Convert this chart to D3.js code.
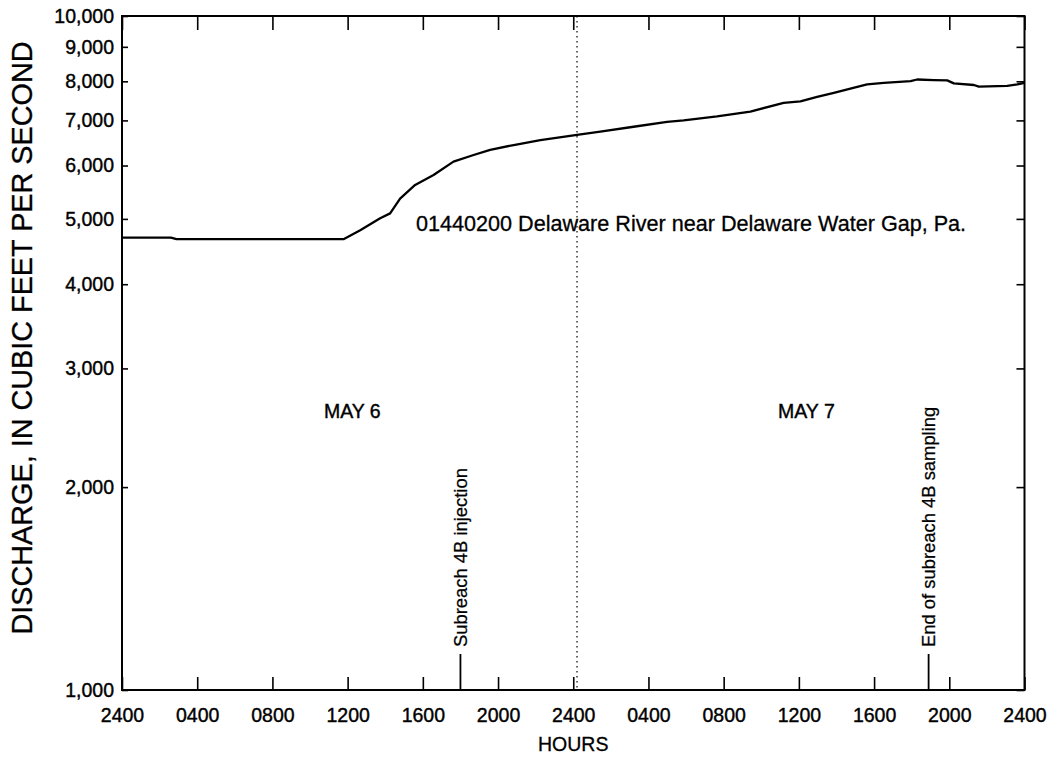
<!DOCTYPE html>
<html>
<head>
<meta charset="utf-8">
<script src="https://cdn.jsdelivr.net/npm/d3@7"></script>
<style>
  html, body { margin: 0; padding: 0; background: #fff; }
  svg { display: block; }
  text { font-family: "Liberation Sans", Arial, Helvetica, sans-serif; fill: #000; }
</style>
</head>
<body>
<svg id="chart" width="1057" height="760"></svg>
<script>
// ---- Data ----
// hours since 2400 on May 5 (0 = 2400 May 5, 24 = 2400 May 6, 48 = 2400 May 7)
const hours = [0, 2.6, 2.9, 11.78, 12.67, 13.73, 14.26, 14.79, 15.59, 16.57, 17.63, 18.70, 19.58,
  20.83, 22.25, 24.20, 25.44, 27.21, 28.99, 29.87, 31.65, 33.42, 35.19, 36.08, 36.97, 37.86,
  38.74, 39.63, 40.52, 41.94, 42.29, 43.18, 43.89, 44.24, 45.31, 45.57, 47.08, 47.62, 48];
const discharge = [4690, 4690, 4665, 4665, 4810, 5010, 5095, 5360, 5615, 5810, 6080, 6220, 6330,
  6435, 6545, 6660, 6735, 6850, 6965, 7000, 7095, 7215, 7430, 7470, 7585, 7690,
  7800, 7915, 7960, 8005, 8050, 8035, 8025, 7945, 7900, 7855, 7875, 7915, 7960];

const xTickValues = [0, 4, 8, 12, 16, 20, 24, 28, 32, 36, 40, 44, 48];
const xTickLabels = ["2400", "0400", "0800", "1200", "1600", "2000", "2400",
                     "0400", "0800", "1200", "1600", "2000", "2400"];
const yTickValues = [1000, 2000, 3000, 4000, 5000, 6000, 7000, 8000, 9000, 10000];
const yTickLabels = ["1,000", "2,000", "3,000", "4,000", "5,000", "6,000", "7,000", "8,000", "9,000", "10,000"];

const dayLabels = [{ text: "MAY 6", hour: 12.25 }, { text: "MAY 7", hour: 36.4 }];
const markers = [{ text: "Subreach 4B injection", hour: 18.0 }, { text: "End of subreach 4B sampling", hour: 42.9 }];
const dayBoundary = 24.2;
const stationLabel = "01440200 Delaware River near Delaware Water Gap, Pa.";

// ---- Layout ----
const svg = d3.select("#chart");
const mLeft = 122, mRight = 1024.5, mTop = 16, mBottom = 690;

const x = d3.scaleLinear().domain([0, 48]).range([mLeft, mRight]);
const y = d3.scaleLog().domain([1000, 10000]).range([mBottom, mTop]);

const g = svg.append("g");

// Axes
const bottomAxis = d3.axisBottom(x).tickValues(xTickValues)
  .tickFormat((d, i) => xTickLabels[i]).tickSizeInner(-13).tickSizeOuter(0).tickPadding(18);
const topAxis = d3.axisTop(x).tickValues(xTickValues).tickFormat("")
  .tickSizeInner(-14).tickSizeOuter(0);
const leftAxis = d3.axisLeft(y).tickValues(yTickValues)
  .tickFormat((d, i) => yTickLabels[i]).tickSizeInner(-6).tickSizeOuter(0).tickPadding(8);
const rightAxis = d3.axisRight(y).tickValues(yTickValues).tickFormat("")
  .tickSizeInner(-8).tickSizeOuter(0);

function styleAxis(sel) {
  sel.select(".domain").remove();
  sel.selectAll(".tick line").attr("stroke", "#000").attr("stroke-width", 1.6);
  sel.selectAll(".tick text").attr("fill", "#000").attr("font-size", 19.5)
    .attr("stroke", "#000").attr("stroke-width", 0.4)
    .attr("font-family", "'Liberation Sans', Arial, Helvetica, sans-serif");
}

g.append("g").attr("transform", `translate(0,${mBottom})`).call(bottomAxis).call(styleAxis);
g.append("g").attr("transform", `translate(0,${mTop})`).call(topAxis).call(styleAxis);
g.append("g").attr("transform", `translate(${mLeft},0)`).call(leftAxis).call(styleAxis);
g.append("g").attr("transform", `translate(${mRight},0)`).call(rightAxis).call(styleAxis);

// Frame
g.append("rect").attr("x", mLeft).attr("y", mTop)
  .attr("width", mRight - mLeft).attr("height", mBottom - mTop)
  .attr("fill", "none").attr("stroke", "#000").attr("stroke-width", 2);

// Day boundary dotted line
g.append("line")
  .attr("x1", x(dayBoundary)).attr("x2", x(dayBoundary))
  .attr("y1", mTop).attr("y2", mBottom)
  .attr("stroke", "#000").attr("stroke-width", 1.2).attr("stroke-dasharray", "1.5,3.5");

// Discharge line
const line = d3.line().x((d, i) => x(hours[i])).y(d => y(d));
g.append("path").datum(discharge)
  .attr("d", line)
  .attr("fill", "none").attr("stroke", "#000").attr("stroke-width", 2.3)
  .attr("stroke-linejoin", "round");

// Station label
g.append("text").attr("x", 416).attr("y", 231)
  .attr("font-size", 21.6).attr("stroke", "#000").attr("stroke-width", 0.3)
  .text(stationLabel);

// Day labels
g.selectAll(".day").data(dayLabels).enter().append("text")
  .attr("x", d => x(d.hour)).attr("y", 418)
  .attr("text-anchor", "middle").attr("font-size", 19.5)
  .attr("stroke", "#000").attr("stroke-width", 0.4)
  .text(d => d.text);

// Markers
markers.forEach(m => {
  const mx = x(m.hour);
  g.append("line").attr("x1", mx).attr("x2", mx).attr("y1", mBottom).attr("y2", 654)
    .attr("stroke", "#000").attr("stroke-width", 1.8);
  g.append("text")
    .attr("transform", `translate(${mx + 6.5},647) rotate(-90)`)
    .attr("font-size", 18.4).attr("stroke", "#000").attr("stroke-width", 0.25)
    .text(m.text);
});

// Axis titles
svg.append("text").attr("x", x(24)).attr("y", 751)
  .attr("text-anchor", "middle").attr("font-size", 19.5)
  .attr("stroke", "#000").attr("stroke-width", 0.3)
  .text("HOURS");

svg.append("text")
  .attr("transform", `translate(32,338) rotate(-90)`)
  .attr("text-anchor", "middle").attr("font-size", 28.8)
  .attr("stroke", "#000").attr("stroke-width", 0.3)
  .text("DISCHARGE, IN CUBIC FEET PER SECOND");
</script>
</body>
</html>
